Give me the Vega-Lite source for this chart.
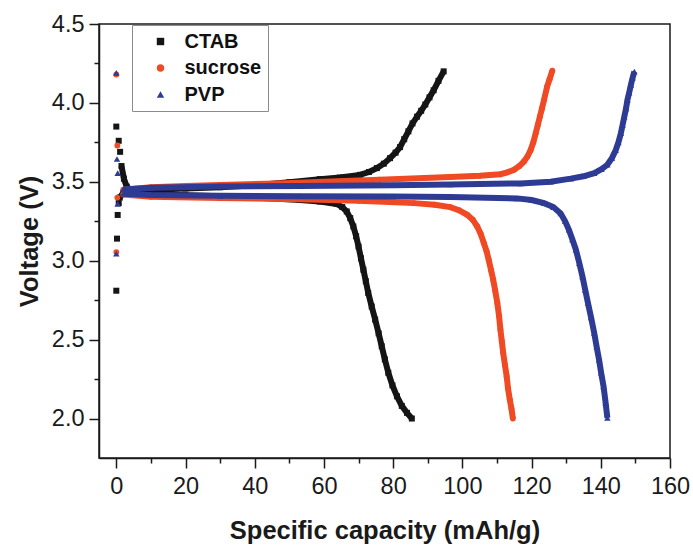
{
  "$schema": "https://vega.github.io/schema/vega-lite/v6.json",
  "width": 571,
  "height": 434,
  "autosize": "none",
  "padding": {"left": 99, "top": 24, "right": 23, "bottom": 89},
  "background": "white",
  "config": {
    "font": "Liberation Sans",
    "view": {"stroke": "#1a1a1a", "strokeWidth": 1.5},
    "legend": {
      "title": null,
      "orient": "none",
      "legendX": 33,
      "legendY": 1,
      "padding": 6.5,
      "strokeColor": "#8c8c8c",
      "strokeWidth": 1,
      "fillColor": "white",
      "labelFont": "Liberation Sans",
      "labelFontSize": 20,
      "labelFontWeight": "bold",
      "labelColor": "#111111",
      "symbolOffset": 12,
      "labelOffset": 14,
      "rowPadding": 6.5,
      "symbolSize": 55,
      "symbolStrokeWidth": 0
    }
  },
  "data": {
    "values": [
      {"sample": "CTAB", "curve": "init", "capacity": 0, "voltage": 2.81},
      {"sample": "CTAB", "curve": "init", "capacity": 0.2, "voltage": 3.14},
      {"sample": "CTAB", "curve": "init", "capacity": 0.4, "voltage": 3.29},
      {"sample": "CTAB", "curve": "init", "capacity": 0.7, "voltage": 3.365},
      {"sample": "CTAB", "curve": "init", "capacity": 0, "voltage": 3.85},
      {"sample": "CTAB", "curve": "init", "capacity": 0.7, "voltage": 3.76},
      {"sample": "CTAB", "curve": "init", "capacity": 1.1, "voltage": 3.69},

      {"sample": "CTAB", "curve": "charge", "capacity": 1.0, "voltage": 3.40},
      {"sample": "CTAB", "curve": "charge", "capacity": 2, "voltage": 3.43},
      {"sample": "CTAB", "curve": "charge", "capacity": 5, "voltage": 3.445},
      {"sample": "CTAB", "curve": "charge", "capacity": 10, "voltage": 3.45},
      {"sample": "CTAB", "curve": "charge", "capacity": 20, "voltage": 3.458},
      {"sample": "CTAB", "curve": "charge", "capacity": 30, "voltage": 3.466},
      {"sample": "CTAB", "curve": "charge", "capacity": 40, "voltage": 3.478},
      {"sample": "CTAB", "curve": "charge", "capacity": 50, "voltage": 3.497},
      {"sample": "CTAB", "curve": "charge", "capacity": 58.8, "voltage": 3.517},
      {"sample": "CTAB", "curve": "charge", "capacity": 64.6, "voltage": 3.527},
      {"sample": "CTAB", "curve": "charge", "capacity": 70.4, "voltage": 3.544},
      {"sample": "CTAB", "curve": "charge", "capacity": 73, "voltage": 3.562},
      {"sample": "CTAB", "curve": "charge", "capacity": 75.3, "voltage": 3.587},
      {"sample": "CTAB", "curve": "charge", "capacity": 77.3, "voltage": 3.615},
      {"sample": "CTAB", "curve": "charge", "capacity": 79.1, "voltage": 3.65},
      {"sample": "CTAB", "curve": "charge", "capacity": 80.7, "voltage": 3.685},
      {"sample": "CTAB", "curve": "charge", "capacity": 82.0, "voltage": 3.72},
      {"sample": "CTAB", "curve": "charge", "capacity": 83.2, "voltage": 3.77},
      {"sample": "CTAB", "curve": "charge", "capacity": 84.4, "voltage": 3.82},
      {"sample": "CTAB", "curve": "charge", "capacity": 85.6, "voltage": 3.87},
      {"sample": "CTAB", "curve": "charge", "capacity": 86.9, "voltage": 3.913},
      {"sample": "CTAB", "curve": "charge", "capacity": 88.1, "voltage": 3.95},
      {"sample": "CTAB", "curve": "charge", "capacity": 89.3, "voltage": 3.99},
      {"sample": "CTAB", "curve": "charge", "capacity": 90.5, "voltage": 4.035},
      {"sample": "CTAB", "curve": "charge", "capacity": 91.7, "voltage": 4.08},
      {"sample": "CTAB", "curve": "charge", "capacity": 93.1, "voltage": 4.14},
      {"sample": "CTAB", "curve": "charge", "capacity": 94.6, "voltage": 4.2},

      {"sample": "CTAB", "curve": "discharge", "capacity": 1.5, "voltage": 3.6},
      {"sample": "CTAB", "curve": "discharge", "capacity": 2.2, "voltage": 3.52},
      {"sample": "CTAB", "curve": "discharge", "capacity": 3, "voltage": 3.47},
      {"sample": "CTAB", "curve": "discharge", "capacity": 4.5, "voltage": 3.44},
      {"sample": "CTAB", "curve": "discharge", "capacity": 10, "voltage": 3.425},
      {"sample": "CTAB", "curve": "discharge", "capacity": 20, "voltage": 3.415},
      {"sample": "CTAB", "curve": "discharge", "capacity": 30, "voltage": 3.408},
      {"sample": "CTAB", "curve": "discharge", "capacity": 40, "voltage": 3.40},
      {"sample": "CTAB", "curve": "discharge", "capacity": 53, "voltage": 3.385},
      {"sample": "CTAB", "curve": "discharge", "capacity": 58.8, "voltage": 3.375},
      {"sample": "CTAB", "curve": "discharge", "capacity": 63.7, "voltage": 3.36},
      {"sample": "CTAB", "curve": "discharge", "capacity": 65.3, "voltage": 3.34},
      {"sample": "CTAB", "curve": "discharge", "capacity": 66.6, "voltage": 3.312},
      {"sample": "CTAB", "curve": "discharge", "capacity": 67.6, "voltage": 3.27},
      {"sample": "CTAB", "curve": "discharge", "capacity": 68.5, "voltage": 3.217},
      {"sample": "CTAB", "curve": "discharge", "capacity": 69.3, "voltage": 3.155},
      {"sample": "CTAB", "curve": "discharge", "capacity": 70.0, "voltage": 3.09},
      {"sample": "CTAB", "curve": "discharge", "capacity": 70.7, "voltage": 3.015},
      {"sample": "CTAB", "curve": "discharge", "capacity": 71.4, "voltage": 2.943},
      {"sample": "CTAB", "curve": "discharge", "capacity": 72.1, "voltage": 2.87},
      {"sample": "CTAB", "curve": "discharge", "capacity": 72.8, "voltage": 2.796},
      {"sample": "CTAB", "curve": "discharge", "capacity": 73.8, "voltage": 2.71},
      {"sample": "CTAB", "curve": "discharge", "capacity": 74.8, "voltage": 2.627},
      {"sample": "CTAB", "curve": "discharge", "capacity": 75.8, "voltage": 2.54},
      {"sample": "CTAB", "curve": "discharge", "capacity": 76.7, "voltage": 2.458},
      {"sample": "CTAB", "curve": "discharge", "capacity": 77.6, "voltage": 2.375},
      {"sample": "CTAB", "curve": "discharge", "capacity": 78.6, "voltage": 2.29},
      {"sample": "CTAB", "curve": "discharge", "capacity": 79.8, "voltage": 2.21},
      {"sample": "CTAB", "curve": "discharge", "capacity": 81.1, "voltage": 2.141},
      {"sample": "CTAB", "curve": "discharge", "capacity": 82.5, "voltage": 2.08},
      {"sample": "CTAB", "curve": "discharge", "capacity": 84.0, "voltage": 2.036},
      {"sample": "CTAB", "curve": "discharge", "capacity": 85.4, "voltage": 2.0},

      {"sample": "sucrose", "curve": "init", "capacity": 0, "voltage": 4.18},
      {"sample": "sucrose", "curve": "init", "capacity": 0.3, "voltage": 3.73},
      {"sample": "sucrose", "curve": "init", "capacity": 0.3, "voltage": 3.40},
      {"sample": "sucrose", "curve": "init", "capacity": 0, "voltage": 3.055},

      {"sample": "sucrose", "curve": "charge", "capacity": 2, "voltage": 3.45},
      {"sample": "sucrose", "curve": "charge", "capacity": 10, "voltage": 3.465},
      {"sample": "sucrose", "curve": "charge", "capacity": 20, "voltage": 3.473},
      {"sample": "sucrose", "curve": "charge", "capacity": 30, "voltage": 3.48},
      {"sample": "sucrose", "curve": "charge", "capacity": 47, "voltage": 3.49},
      {"sample": "sucrose", "curve": "charge", "capacity": 60, "voltage": 3.50},
      {"sample": "sucrose", "curve": "charge", "capacity": 76, "voltage": 3.513},
      {"sample": "sucrose", "curve": "charge", "capacity": 96.5, "voltage": 3.53},
      {"sample": "sucrose", "curve": "charge", "capacity": 105, "voltage": 3.538},
      {"sample": "sucrose", "curve": "charge", "capacity": 111, "voltage": 3.548},
      {"sample": "sucrose", "curve": "charge", "capacity": 113, "voltage": 3.56},
      {"sample": "sucrose", "curve": "charge", "capacity": 114.9, "voltage": 3.576},
      {"sample": "sucrose", "curve": "charge", "capacity": 116.5, "voltage": 3.60},
      {"sample": "sucrose", "curve": "charge", "capacity": 117.8, "voltage": 3.629},
      {"sample": "sucrose", "curve": "charge", "capacity": 118.8, "voltage": 3.66},
      {"sample": "sucrose", "curve": "charge", "capacity": 119.7, "voltage": 3.70},
      {"sample": "sucrose", "curve": "charge", "capacity": 120.5, "voltage": 3.75},
      {"sample": "sucrose", "curve": "charge", "capacity": 121.2, "voltage": 3.808},
      {"sample": "sucrose", "curve": "charge", "capacity": 121.8, "voltage": 3.86},
      {"sample": "sucrose", "curve": "charge", "capacity": 122.4, "voltage": 3.913},
      {"sample": "sucrose", "curve": "charge", "capacity": 123.0, "voltage": 3.965},
      {"sample": "sucrose", "curve": "charge", "capacity": 123.6, "voltage": 4.019},
      {"sample": "sucrose", "curve": "charge", "capacity": 124.5, "voltage": 4.103},
      {"sample": "sucrose", "curve": "charge", "capacity": 125.2, "voltage": 4.15},
      {"sample": "sucrose", "curve": "charge", "capacity": 126.0, "voltage": 4.205},

      {"sample": "sucrose", "curve": "discharge", "capacity": 2, "voltage": 3.42},
      {"sample": "sucrose", "curve": "discharge", "capacity": 10, "voltage": 3.405},
      {"sample": "sucrose", "curve": "discharge", "capacity": 30, "voltage": 3.398},
      {"sample": "sucrose", "curve": "discharge", "capacity": 53, "voltage": 3.39},
      {"sample": "sucrose", "curve": "discharge", "capacity": 70, "voltage": 3.38},
      {"sample": "sucrose", "curve": "discharge", "capacity": 86, "voltage": 3.365},
      {"sample": "sucrose", "curve": "discharge", "capacity": 92, "voltage": 3.355},
      {"sample": "sucrose", "curve": "discharge", "capacity": 96.5, "voltage": 3.34},
      {"sample": "sucrose", "curve": "discharge", "capacity": 99, "voltage": 3.32},
      {"sample": "sucrose", "curve": "discharge", "capacity": 101.4, "voltage": 3.291},
      {"sample": "sucrose", "curve": "discharge", "capacity": 103, "voltage": 3.26},
      {"sample": "sucrose", "curve": "discharge", "capacity": 104.3, "voltage": 3.217},
      {"sample": "sucrose", "curve": "discharge", "capacity": 105.3, "voltage": 3.17},
      {"sample": "sucrose", "curve": "discharge", "capacity": 106.2, "voltage": 3.112},
      {"sample": "sucrose", "curve": "discharge", "capacity": 107.0, "voltage": 3.06},
      {"sample": "sucrose", "curve": "discharge", "capacity": 107.6, "voltage": 3.006},
      {"sample": "sucrose", "curve": "discharge", "capacity": 108.3, "voltage": 2.94},
      {"sample": "sucrose", "curve": "discharge", "capacity": 108.9, "voltage": 2.88},
      {"sample": "sucrose", "curve": "discharge", "capacity": 109.5, "voltage": 2.81},
      {"sample": "sucrose", "curve": "discharge", "capacity": 110.1, "voltage": 2.732},
      {"sample": "sucrose", "curve": "discharge", "capacity": 110.6, "voltage": 2.65},
      {"sample": "sucrose", "curve": "discharge", "capacity": 111.0, "voltage": 2.563},
      {"sample": "sucrose", "curve": "discharge", "capacity": 111.4, "voltage": 2.49},
      {"sample": "sucrose", "curve": "discharge", "capacity": 111.8, "voltage": 2.416},
      {"sample": "sucrose", "curve": "discharge", "capacity": 112.3, "voltage": 2.34},
      {"sample": "sucrose", "curve": "discharge", "capacity": 112.8, "voltage": 2.268},
      {"sample": "sucrose", "curve": "discharge", "capacity": 113.2, "voltage": 2.19},
      {"sample": "sucrose", "curve": "discharge", "capacity": 113.7, "voltage": 2.12},
      {"sample": "sucrose", "curve": "discharge", "capacity": 114.2, "voltage": 2.06},
      {"sample": "sucrose", "curve": "discharge", "capacity": 114.6, "voltage": 2.0},

      {"sample": "PVP", "curve": "init", "capacity": 0, "voltage": 4.19},
      {"sample": "PVP", "curve": "init", "capacity": 0.2, "voltage": 3.645},
      {"sample": "PVP", "curve": "init", "capacity": 0.4, "voltage": 3.555},
      {"sample": "PVP", "curve": "init", "capacity": 0.4, "voltage": 3.36},
      {"sample": "PVP", "curve": "init", "capacity": 0, "voltage": 3.044},

      {"sample": "PVP", "curve": "charge", "capacity": 2, "voltage": 3.452},
      {"sample": "PVP", "curve": "charge", "capacity": 10, "voltage": 3.463},
      {"sample": "PVP", "curve": "charge", "capacity": 30, "voltage": 3.471},
      {"sample": "PVP", "curve": "charge", "capacity": 53, "voltage": 3.474},
      {"sample": "PVP", "curve": "charge", "capacity": 80, "voltage": 3.479},
      {"sample": "PVP", "curve": "charge", "capacity": 96.5, "voltage": 3.483},
      {"sample": "PVP", "curve": "charge", "capacity": 116.8, "voltage": 3.49},
      {"sample": "PVP", "curve": "charge", "capacity": 125.5, "voltage": 3.50},
      {"sample": "PVP", "curve": "charge", "capacity": 131.3, "voltage": 3.52},
      {"sample": "PVP", "curve": "charge", "capacity": 135, "voltage": 3.535},
      {"sample": "PVP", "curve": "charge", "capacity": 138.1, "voltage": 3.555},
      {"sample": "PVP", "curve": "charge", "capacity": 140.2, "voltage": 3.58},
      {"sample": "PVP", "curve": "charge", "capacity": 141.9, "voltage": 3.608},
      {"sample": "PVP", "curve": "charge", "capacity": 143.2, "voltage": 3.65},
      {"sample": "PVP", "curve": "charge", "capacity": 144.3, "voltage": 3.70},
      {"sample": "PVP", "curve": "charge", "capacity": 145.1, "voltage": 3.75},
      {"sample": "PVP", "curve": "charge", "capacity": 145.8, "voltage": 3.808},
      {"sample": "PVP", "curve": "charge", "capacity": 146.3, "voltage": 3.86},
      {"sample": "PVP", "curve": "charge", "capacity": 146.8, "voltage": 3.913},
      {"sample": "PVP", "curve": "charge", "capacity": 147.3, "voltage": 3.965},
      {"sample": "PVP", "curve": "charge", "capacity": 147.7, "voltage": 4.019},
      {"sample": "PVP", "curve": "charge", "capacity": 148.2, "voltage": 4.065},
      {"sample": "PVP", "curve": "charge", "capacity": 148.7, "voltage": 4.114},
      {"sample": "PVP", "curve": "charge", "capacity": 149.2, "voltage": 4.16},
      {"sample": "PVP", "curve": "charge", "capacity": 149.7, "voltage": 4.198},

      {"sample": "PVP", "curve": "discharge", "capacity": 2, "voltage": 3.425},
      {"sample": "PVP", "curve": "discharge", "capacity": 10, "voltage": 3.416},
      {"sample": "PVP", "curve": "discharge", "capacity": 30, "voltage": 3.411},
      {"sample": "PVP", "curve": "discharge", "capacity": 53, "voltage": 3.409},
      {"sample": "PVP", "curve": "discharge", "capacity": 80, "voltage": 3.407},
      {"sample": "PVP", "curve": "discharge", "capacity": 96.5, "voltage": 3.404},
      {"sample": "PVP", "curve": "discharge", "capacity": 115.8, "voltage": 3.395},
      {"sample": "PVP", "curve": "discharge", "capacity": 120, "voltage": 3.385},
      {"sample": "PVP", "curve": "discharge", "capacity": 123.6, "voltage": 3.365},
      {"sample": "PVP", "curve": "discharge", "capacity": 126.3, "voltage": 3.34},
      {"sample": "PVP", "curve": "discharge", "capacity": 128.4, "voltage": 3.30},
      {"sample": "PVP", "curve": "discharge", "capacity": 129.7, "voltage": 3.25},
      {"sample": "PVP", "curve": "discharge", "capacity": 130.8, "voltage": 3.196},
      {"sample": "PVP", "curve": "discharge", "capacity": 131.8, "voltage": 3.135},
      {"sample": "PVP", "curve": "discharge", "capacity": 132.8, "voltage": 3.07},
      {"sample": "PVP", "curve": "discharge", "capacity": 133.8, "voltage": 2.985},
      {"sample": "PVP", "curve": "discharge", "capacity": 134.7, "voltage": 2.90},
      {"sample": "PVP", "curve": "discharge", "capacity": 135.5, "voltage": 2.815},
      {"sample": "PVP", "curve": "discharge", "capacity": 136.3, "voltage": 2.732},
      {"sample": "PVP", "curve": "discharge", "capacity": 137.2, "voltage": 2.64},
      {"sample": "PVP", "curve": "discharge", "capacity": 138.1, "voltage": 2.542},
      {"sample": "PVP", "curve": "discharge", "capacity": 138.8, "voltage": 2.455},
      {"sample": "PVP", "curve": "discharge", "capacity": 139.5, "voltage": 2.373},
      {"sample": "PVP", "curve": "discharge", "capacity": 140.1, "voltage": 2.29},
      {"sample": "PVP", "curve": "discharge", "capacity": 140.8, "voltage": 2.204},
      {"sample": "PVP", "curve": "discharge", "capacity": 141.4, "voltage": 2.10},
      {"sample": "PVP", "curve": "discharge", "capacity": 141.9, "voltage": 2.004}
    ]
  },
  "encoding": {
    "x": {
      "field": "capacity",
      "type": "quantitative",
      "scale": {"domain": [-5, 160], "nice": false, "zero": false},
      "axis": {
        "title": "Specific capacity (mAh/g)",
        "values": [0, 10, 20, 30, 40, 50, 60, 70, 80, 90, 100, 110, 120, 130, 140, 150, 160],
        "labelExpr": "datum.value % 20 === 0 ? datum.label : ''",
        "tickSize": {"condition": {"test": "datum.value % 20 === 0", "value": 10}, "value": 5},
        "grid": false,
        "domainColor": "#1a1a1a",
        "domainWidth": 1.5,
        "tickColor": "#1a1a1a",
        "tickWidth": 1.5,
        "labelFont": "Liberation Sans",
        "labelFontSize": 23.5,
        "labelColor": "#1a1a1a",
        "labelPadding": 6,
        "labelFlush": false,
        "labelOverlap": false,
        "titleFont": "Liberation Sans",
        "titleFontSize": 25.5,
        "titleFontWeight": "bold",
        "titleColor": "#1a1a1a",
        "titlePadding": 21
      }
    },
    "y": {
      "field": "voltage",
      "type": "quantitative",
      "scale": {"domain": [1.75, 4.5], "nice": false, "zero": false},
      "axis": {
        "title": "Voltage (V)",
        "values": [2, 2.25, 2.5, 2.75, 3, 3.25, 3.5, 3.75, 4, 4.25, 4.5],
        "labelExpr": "round(datum.value * 4) % 2 === 0 ? format(datum.value, '.1f') : ''",
        "tickSize": {"condition": {"test": "round(datum.value * 4) % 2 === 0", "value": 10}, "value": 5},
        "grid": false,
        "domainColor": "#1a1a1a",
        "domainWidth": 1.5,
        "tickColor": "#1a1a1a",
        "tickWidth": 1.5,
        "labelFont": "Liberation Sans",
        "labelFontSize": 23.5,
        "labelColor": "#1a1a1a",
        "labelPadding": 5,
        "labelFlush": false,
        "labelOverlap": false,
        "titleFont": "Liberation Sans",
        "titleFontSize": 25.5,
        "titleFontWeight": "bold",
        "titleColor": "#1a1a1a",
        "titlePadding": 9
      }
    }
  },
  "layer": [
    {
      "transform": [{"filter": "datum.sample === 'CTAB' && datum.curve !== 'init'"}],
      "mark": {"type": "line", "strokeWidth": 6, "color": "#151515", "clip": true},
      "encoding": {"detail": {"field": "curve"}, "order": {"field": "capacity", "type": "quantitative"}}
    },
    {
      "transform": [{"filter": "datum.sample === 'CTAB'"}],
      "mark": {"type": "point", "filled": true, "size": 36, "opacity": 1},
      "encoding": {
        "color": {"field": "sample", "type": "nominal", "scale": {"domain": ["CTAB", "sucrose", "PVP"], "range": ["#151515", "#f04a25", "#2e3b94"]}},
        "shape": {"field": "sample", "type": "nominal", "scale": {"domain": ["CTAB", "sucrose", "PVP"], "range": ["square", "circle", "triangle-up"]}}
      }
    },
    {
      "transform": [{"filter": "datum.sample === 'sucrose' && datum.curve !== 'init'"}],
      "mark": {"type": "line", "strokeWidth": 6, "color": "#f04a25", "clip": true},
      "encoding": {"detail": {"field": "curve"}, "order": {"field": "capacity", "type": "quantitative"}}
    },
    {
      "transform": [{"filter": "datum.sample === 'sucrose'"}],
      "mark": {"type": "point", "filled": true, "size": 34, "opacity": 1},
      "encoding": {
        "color": {"field": "sample", "type": "nominal", "scale": {"domain": ["CTAB", "sucrose", "PVP"], "range": ["#151515", "#f04a25", "#2e3b94"]}},
        "shape": {"field": "sample", "type": "nominal", "scale": {"domain": ["CTAB", "sucrose", "PVP"], "range": ["square", "circle", "triangle-up"]}}
      }
    },
    {
      "transform": [{"filter": "datum.sample === 'PVP' && datum.curve !== 'init'"}],
      "mark": {"type": "line", "strokeWidth": 6, "color": "#2e3b94", "clip": true},
      "encoding": {"detail": {"field": "curve"}, "order": {"field": "capacity", "type": "quantitative"}}
    },
    {
      "transform": [{"filter": "datum.sample === 'PVP'"}],
      "mark": {"type": "point", "filled": true, "size": 42, "opacity": 1},
      "encoding": {
        "color": {"field": "sample", "type": "nominal", "scale": {"domain": ["CTAB", "sucrose", "PVP"], "range": ["#151515", "#f04a25", "#2e3b94"]}},
        "shape": {"field": "sample", "type": "nominal", "scale": {"domain": ["CTAB", "sucrose", "PVP"], "range": ["square", "circle", "triangle-up"]}}
      }
    }
  ]
}
